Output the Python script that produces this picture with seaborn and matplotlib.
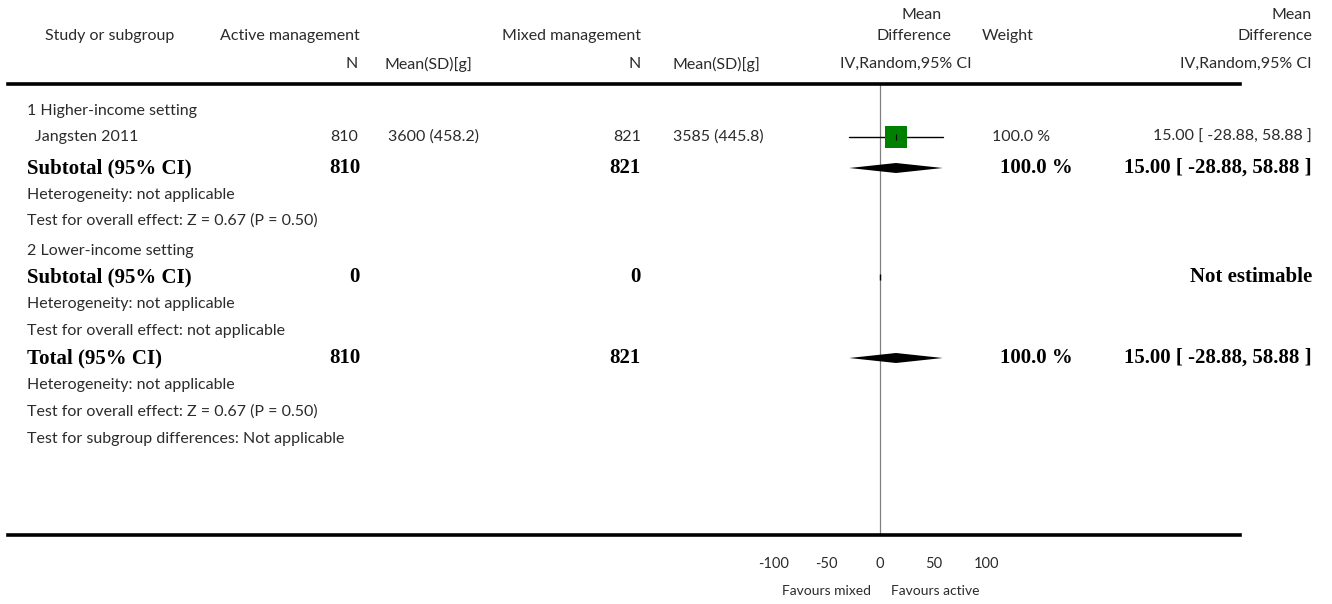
import numpy as np
import pandas as pd
import matplotlib.pyplot as plt
import seaborn as sns

# study data
studies = ['Jangsten 2011']
active_n = [810]
active_mean = [3600]
active_sd = [458.2]
mixed_n = [821]
mixed_mean = [3585]
mixed_sd = [445.8]
md = [15.00]
ci_lo = [-28.88]
ci_hi = [58.88]
weights = [100.0]

# pooled estimates (subgroup 1 and total are the same single trial)
pooled_md = 15.00
pooled_lo = -28.88
pooled_hi = 58.88

ticks = [-100, -50, 0, 50, 100]
tick_labels = ['-100', '-50', '0', '50', '100']

W, H = 1332, 604
sns.set_theme(style='white')
plt.rcParams['font.family'] = ['Lato', 'DejaVu Sans']

fig = plt.figure(figsize=(W / 100, H / 100), dpi=100)

# forest axes spans the table width; 0 sits at pixel 880, ~1.065 px per unit
x0_px, x1_px, zero_px, ppu = 8, 1240, 880, 1.065
top_px, bot_px = 84, 535
ax = fig.add_axes([x0_px / W, 1 - bot_px / H, (x1_px - x0_px) / W, (bot_px - top_px) / H])
ax.set_xlim((x0_px - zero_px) / ppu, (x1_px - zero_px) / ppu)
ax.set_ylim(bot_px, top_px)

# row positions (pixels from the top)
row = {'g1': 111, 'study': 137, 'sub1': 168, 'het1': 195, 'test1': 221,
       'g2': 251, 'sub2': 277, 'het2': 304, 'test2': 331,
       'tot': 358, 'het3': 385, 'test3': 412, 'testsub': 439}

df = pd.DataFrame({'md': md, 'y': [row['study']], 'study': studies})
for lo, hi, y in zip(ci_lo, ci_hi, df['y']):
    ax.plot([lo, hi], [y, y], color='black', lw=1, zorder=2)
sns.scatterplot(data=df, x='md', y='y', marker='s', s=250, color='#008000',
                edgecolor='none', ax=ax, zorder=3, legend=False)
ax.plot(df['md'], df['y'], marker='|', ms=5, color='black', mew=0.8, ls='none', zorder=4)


def diamond(est, lo, hi, y, h=5):
    ax.fill([lo, est, hi, est], [y, y - h, y, y + h], color='black', zorder=3, lw=0)


diamond(pooled_md, pooled_lo, pooled_hi, row['sub1'])
diamond(pooled_md, pooled_lo, pooled_hi, row['tot'])
ax.plot([0], [row['sub2']], marker='|', ms=4, color='black', mew=1)

ax.axvline(0, color='#808080', lw=0.9, zorder=1)

for s in ['left', 'right']:
    ax.spines[s].set_visible(False)
for s in ['top', 'bottom']:
    ax.spines[s].set_linewidth(2.6)
    ax.spines[s].set_color('black')
ax.set_xlabel('')
ax.set_ylabel('')
ax.set_yticks([])
ax.set_xticks(ticks)
ax.set_xticklabels(tick_labels)
ax.tick_params(axis='x', direction='in', length=6, width=2.2, pad=16,
               labelsize=10.5, colors='black', labelcolor='#2b2b2b', top=False)

SANS_SIZE = 11.5
SERIF_SIZE = 15


def t(x, y, s, ha='left', bold=False, size=SANS_SIZE):
    if bold:
        fig.text(x / W, 1 - y / H, s, ha=ha, va='center', fontsize=SERIF_SIZE,
                 fontweight='bold', family='Liberation Serif', color='black')
    else:
        fig.text(x / W, 1 - y / H, s, ha=ha, va='center', fontsize=size,
                 color='#2b2b2b')


# header
t(110, 36, 'Study or subgroup', ha='center')
t(360, 36, 'Active management', ha='right')
t(641, 36, 'Mixed management', ha='right')
t(922, 15, 'Mean', ha='center')
t(914, 36, 'Difference', ha='center')
t(1008, 36, 'Weight', ha='center')
t(1312, 15, 'Mean', ha='right')
t(1312, 36, 'Difference', ha='right')
t(358, 64, 'N', ha='right')
t(385, 64, 'Mean(SD)[g]')
t(641, 64, 'N', ha='right')
t(673, 64, 'Mean(SD)[g]')
t(906, 64, 'IV,Random,95% CI', ha='center')
t(1312, 64, 'IV,Random,95% CI', ha='right')

# subgroup 1
t(27, row['g1'], '1 Higher-income setting')
for i, name in enumerate(studies):
    y = row['study']
    t(35, y, name)
    t(358, y, f'{active_n[i]}', ha='right')
    t(388, y, f'{active_mean[i]} ({active_sd[i]})')
    t(641, y, f'{mixed_n[i]}', ha='right')
    t(673, y, f'{mixed_mean[i]} ({mixed_sd[i]})')
    t(1050, y, f'{weights[i]:.1f} %', ha='right')
    t(1312, y, f'{md[i]:.2f} [ {ci_lo[i]:.2f}, {ci_hi[i]:.2f} ]', ha='right')

pooled_w = f'{sum(weights):.1f} %'
pooled_ci = f'{pooled_md:.2f} [ {pooled_lo:.2f}, {pooled_hi:.2f} ]'
t(27, row['sub1'], 'Subtotal (95% CI)', bold=True)
t(360, row['sub1'], f'{sum(active_n)}', ha='right', bold=True)
t(641, row['sub1'], f'{sum(mixed_n)}', ha='right', bold=True)
t(1073, row['sub1'], pooled_w, ha='right', bold=True)
t(1312, row['sub1'], pooled_ci, ha='right', bold=True)
t(27, row['het1'], 'Heterogeneity: not applicable')
t(27, row['test1'], 'Test for overall effect: Z = 0.67 (P = 0.50)')

# subgroup 2
t(27, row['g2'], '2 Lower-income setting')
t(27, row['sub2'], 'Subtotal (95% CI)', bold=True)
t(360, row['sub2'], '0', ha='right', bold=True)
t(641, row['sub2'], '0', ha='right', bold=True)
t(1312, row['sub2'], 'Not estimable', ha='right', bold=True)
t(27, row['het2'], 'Heterogeneity: not applicable')
t(27, row['test2'], 'Test for overall effect: not applicable')

# total
t(27, row['tot'], 'Total (95% CI)', bold=True)
t(360, row['tot'], f'{sum(active_n)}', ha='right', bold=True)
t(641, row['tot'], f'{sum(mixed_n)}', ha='right', bold=True)
t(1073, row['tot'], pooled_w, ha='right', bold=True)
t(1312, row['tot'], pooled_ci, ha='right', bold=True)
t(27, row['het3'], 'Heterogeneity: not applicable')
t(27, row['test3'], 'Test for overall effect: Z = 0.67 (P = 0.50)')
t(27, row['testsub'], 'Test for subgroup differences: Not applicable')

# favours labels
t(827, 591, 'Favours mixed', ha='center', size=10)
t(935, 591, 'Favours active', ha='center', size=10)

fig.savefig('out.png', dpi=100, facecolor='white')
